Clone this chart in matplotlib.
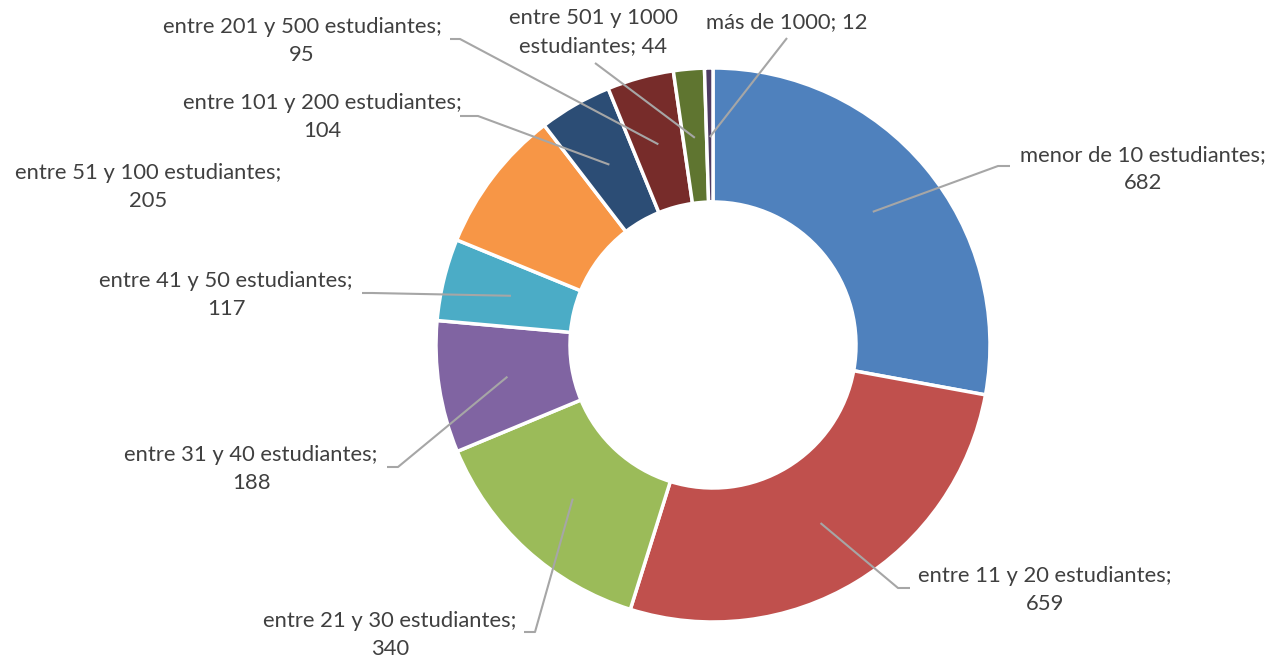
import numpy as np
import matplotlib
matplotlib.use("Agg")
import matplotlib.pyplot as plt

# data
categorias = ["menor de 10 estudiantes", "entre 11 y 20 estudiantes",
              "entre 21 y 30 estudiantes", "entre 31 y 40 estudiantes",
              "entre 41 y 50 estudiantes", "entre 51 y 100 estudiantes",
              "entre 101 y 200 estudiantes", "entre 201 y 500 estudiantes",
              "entre 501 y 1000 estudiantes", "más de 1000"]
valores = [682, 659, 340, 188, 117, 205, 104, 95, 44, 12]
colores = ["#4F81BD", "#C0504D", "#9BBB59", "#8064A2", "#4BACC6",
           "#F79646", "#2C4D75", "#772C2A", "#5F7530", "#4D3B62"]

# label text as shown on chart (line breaks)
textos = ["menor de 10 estudiantes;\n682", "entre 11 y 20 estudiantes;\n659",
          "entre 21 y 30 estudiantes;\n340", "entre 31 y 40 estudiantes;\n188",
          "entre 41 y 50 estudiantes;\n117", "entre 51 y 100 estudiantes;\n205",
          "entre 101 y 200 estudiantes;\n104", "entre 201 y 500 estudiantes;\n95",
          "entre 501 y 1000\nestudiantes; 44", "más de 1000; 12"]

W, H = 1271, 661
# layout in pixel coords (x, y from top): label center, elbow, end of leader
pos_texto = [(1143, 169), (1045, 590), (390, 635), (251, 469), (226, 295),
             (148, 187), (322, 117), (302, 41), (593, 32), (787, 22)]
codo = [(998, 166), (898, 588), (535, 632), (398, 467), (372, 293),
        None, (478, 116), (460, 39), (595, 63), (787, 38)]
fin = [(1010, 166), (910, 588), (524, 632), (387, 467), (362, 293),
       None, (460, 116), (450, 39), (595, 63), (787, 38)]

cx, cy, R, ancho = 713, 345, 277, 134

def py(y):
    return H - y

fig = plt.figure(figsize=(W / 100, H / 100), dpi=100)
ax = fig.add_axes([0, 0, 1, 1])

ax.pie(valores, colors=colores, startangle=90, counterclock=False,
       center=(cx, py(cy)), radius=R, frame=True,
       wedgeprops=dict(width=ancho, edgecolor="white", linewidth=2.5))
ax.set_xlim(0, W)
ax.set_ylim(0, H)
ax.set_aspect("equal")
ax.axis("off")

total = sum(valores)
acum = 0
r_ini = R - ancho / 2 - 2
for i, v in enumerate(valores):
    mid = 90 - (acum + v / 2) / total * 360
    acum += v
    tx, ty = pos_texto[i]
    ax.text(tx, py(ty), textos[i], ha="center", va="center", fontsize=15.8,
            color="#404040", family=["Lato", "DejaVu Sans"], linespacing=1.55)
    if codo[i] is None:
        continue
    x0 = cx + r_ini * np.cos(np.radians(mid))
    y0 = py(cy) + r_ini * np.sin(np.radians(mid))
    ax.plot([x0, codo[i][0], fin[i][0]], [y0, py(codo[i][1]), py(fin[i][1])],
            color="#A6A6A6", lw=1.5, solid_capstyle="butt")

fig.savefig("out.png", dpi=100)
